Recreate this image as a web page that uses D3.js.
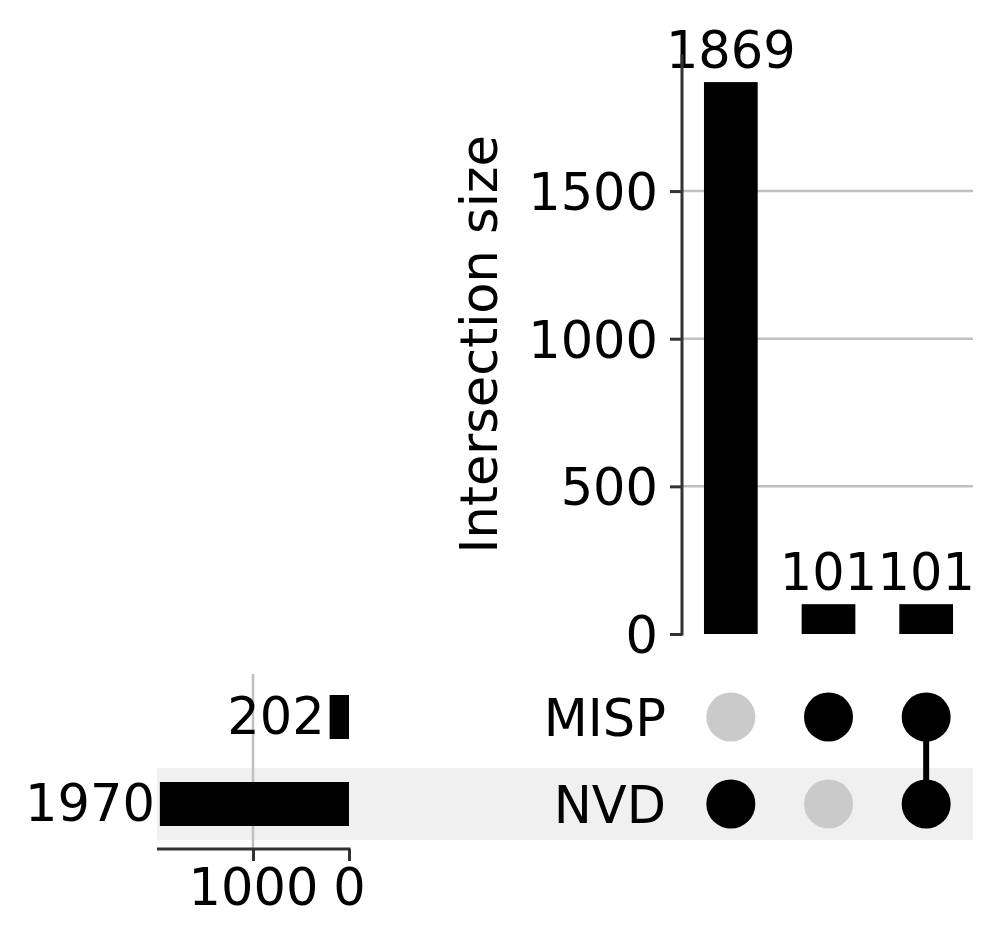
<!DOCTYPE html>
<html>
<head>
<meta charset="utf-8">
<script src="https://cdn.jsdelivr.net/npm/d3@7"></script>
<style>
  html, body { margin: 0; padding: 0; background: #fff; }
  text { font-family: "DejaVu Sans", sans-serif; fill: #000; }
</style>
</head>
<body>
<svg id="chart" width="997" height="943"></svg>
<script>
// sets, their totals and the intersections
const sets = ["MISP", "NVD"];
const setTotals = [202, 1970];
const intersections = [["NVD"], ["MISP"], ["MISP", "NVD"]];
const intersectionSizes = [1869, 101, 101];
const sizeTicks = [0, 500, 1000, 1500];
const totalTicks = [1000, 0];

const svg = d3.select("#chart");
const fs = 51;
const spine = "#333";
const grid = "#c0c0c0";
const fmt = d3.format("d");

// scales
const x = d3.scalePoint()
  .domain(d3.range(intersections.length))
  .range([682, 975])
  .padding(0.5);
const barW = x.step() * 0.55;
const right = 973;

const y = d3.scaleLinear()
  .domain([0, d3.max(intersectionSizes) * 1.05])
  .range([634, 54.5]);

const row = d3.scalePoint()
  .domain(sets)
  .range([717, 804]);

const tx = d3.scaleLinear()
  .domain([0, 2000])
  .range([349, 157]);

// shaded band behind every second row
svg.append("g").selectAll("rect")
  .data(sets.filter((d, i) => i % 2 === 1))
  .enter()
  .append("rect")
  .attr("x", tx.range()[1])
  .attr("width", right - tx.range()[1])
  .attr("y", d => row(d) - 36)
  .attr("height", 72)
  .attr("fill", "#f0f0f0");

// ---- intersection size panel
const gy = svg.append("g");
gy.selectAll("line.grid")
  .data(sizeTicks.filter(d => d > 0))
  .enter()
  .append("line")
  .attr("class", "grid")
  .attr("x1", x.range()[0])
  .attr("x2", right)
  .attr("y1", d => y(d))
  .attr("y2", d => y(d))
  .attr("stroke", grid)
  .attr("stroke-width", 2.5);

gy.selectAll("rect")
  .data(intersectionSizes)
  .enter()
  .append("rect")
  .attr("x", (d, i) => x(i) - barW / 2)
  .attr("width", barW)
  .attr("y", d => y(d))
  .attr("height", d => y(0) - y(d))
  .attr("fill", "#000");

gy.selectAll("text.count")
  .data(intersectionSizes)
  .enter()
  .append("text")
  .attr("class", "count")
  .attr("x", (d, i) => x(i))
  .attr("y", d => y(d) - 14)
  .attr("text-anchor", "middle")
  .attr("font-size", fs)
  .text(d => d);

// axis
const axisY = d3.axisLeft(y).tickValues(sizeTicks).tickFormat(fmt)
  .tickSize(12).tickPadding(12).tickSizeOuter(0);
const ay = svg.append("g")
  .attr("transform", `translate(${x.range()[0]},0)`)
  .call(axisY);
ay.select(".domain").attr("stroke", spine).attr("stroke-width", 3)
  .attr("d", `M0,${y(0) + 1.5}V${y.range()[1]}`);
ay.selectAll(".tick line").attr("stroke", spine).attr("stroke-width", 3);
ay.selectAll(".tick text")
  .attr("font-size", fs)
  .attr("font-family", "DejaVu Sans")
  .attr("fill", "#000")
  .attr("dy", fs * 0.36);

svg.append("text")
  .attr("transform", `translate(497,${(y.range()[0] + y.range()[1]) / 2}) rotate(-90)`)
  .attr("text-anchor", "middle")
  .attr("font-size", fs)
  .text("Intersection size");

// ---- matrix
const gm = svg.append("g");
gm.selectAll("text.setname")
  .data(sets)
  .enter()
  .append("text")
  .attr("class", "setname")
  .attr("x", 666)
  .attr("y", d => row(d) + fs * 0.38)
  .attr("text-anchor", "end")
  .attr("font-size", fs)
  .text(d => d);

intersections.forEach((members, i) => {
  sets.forEach(s => {
    gm.append("circle")
      .attr("cx", x(i))
      .attr("cy", row(s))
      .attr("r", 24.5)
      .attr("fill", members.includes(s) ? "#000" : "#cacaca");
  });
  if (members.length > 1) {
    const ys = members.map(m => row(m));
    gm.append("line")
      .attr("x1", x(i))
      .attr("x2", x(i))
      .attr("y1", d3.min(ys))
      .attr("y2", d3.max(ys))
      .attr("stroke", "#000")
      .attr("stroke-width", 6);
  }
});

// ---- set totals panel
const gt = svg.append("g");
gt.selectAll("line.grid")
  .data(totalTicks.filter(d => d > 0))
  .enter()
  .append("line")
  .attr("class", "grid")
  .attr("x1", d => tx(d))
  .attr("x2", d => tx(d))
  .attr("y1", 674)
  .attr("y2", 849)
  .attr("stroke", grid)
  .attr("stroke-width", 2.5);

gt.selectAll("rect")
  .data(setTotals)
  .enter()
  .append("rect")
  .attr("x", d => tx(d))
  .attr("width", d => tx(0) - tx(d))
  .attr("y", (d, i) => row(sets[i]) - 22)
  .attr("height", 44)
  .attr("fill", "#000");

gt.selectAll("text.total")
  .data(setTotals)
  .enter()
  .append("text")
  .attr("class", "total")
  .attr("x", d => tx(d) - 5)
  .attr("y", (d, i) => row(sets[i]) + 17)
  .attr("text-anchor", "end")
  .attr("font-size", fs)
  .text(d => d);

const axisT = d3.axisBottom(tx).tickValues(totalTicks).tickFormat(fmt)
  .tickSize(12).tickPadding(8).tickSizeOuter(0);
const at = svg.append("g")
  .attr("transform", "translate(0,849)")
  .call(axisT);
at.select(".domain").attr("stroke", spine).attr("stroke-width", 3)
  .attr("d", `M${tx.range()[1]},0H${tx(0) + 1.5}`);
at.selectAll(".tick line").attr("stroke", spine).attr("stroke-width", 3);
at.selectAll(".tick text")
  .attr("font-size", fs)
  .attr("font-family", "DejaVu Sans")
  .attr("fill", "#000");
</script>
</body>
</html>
